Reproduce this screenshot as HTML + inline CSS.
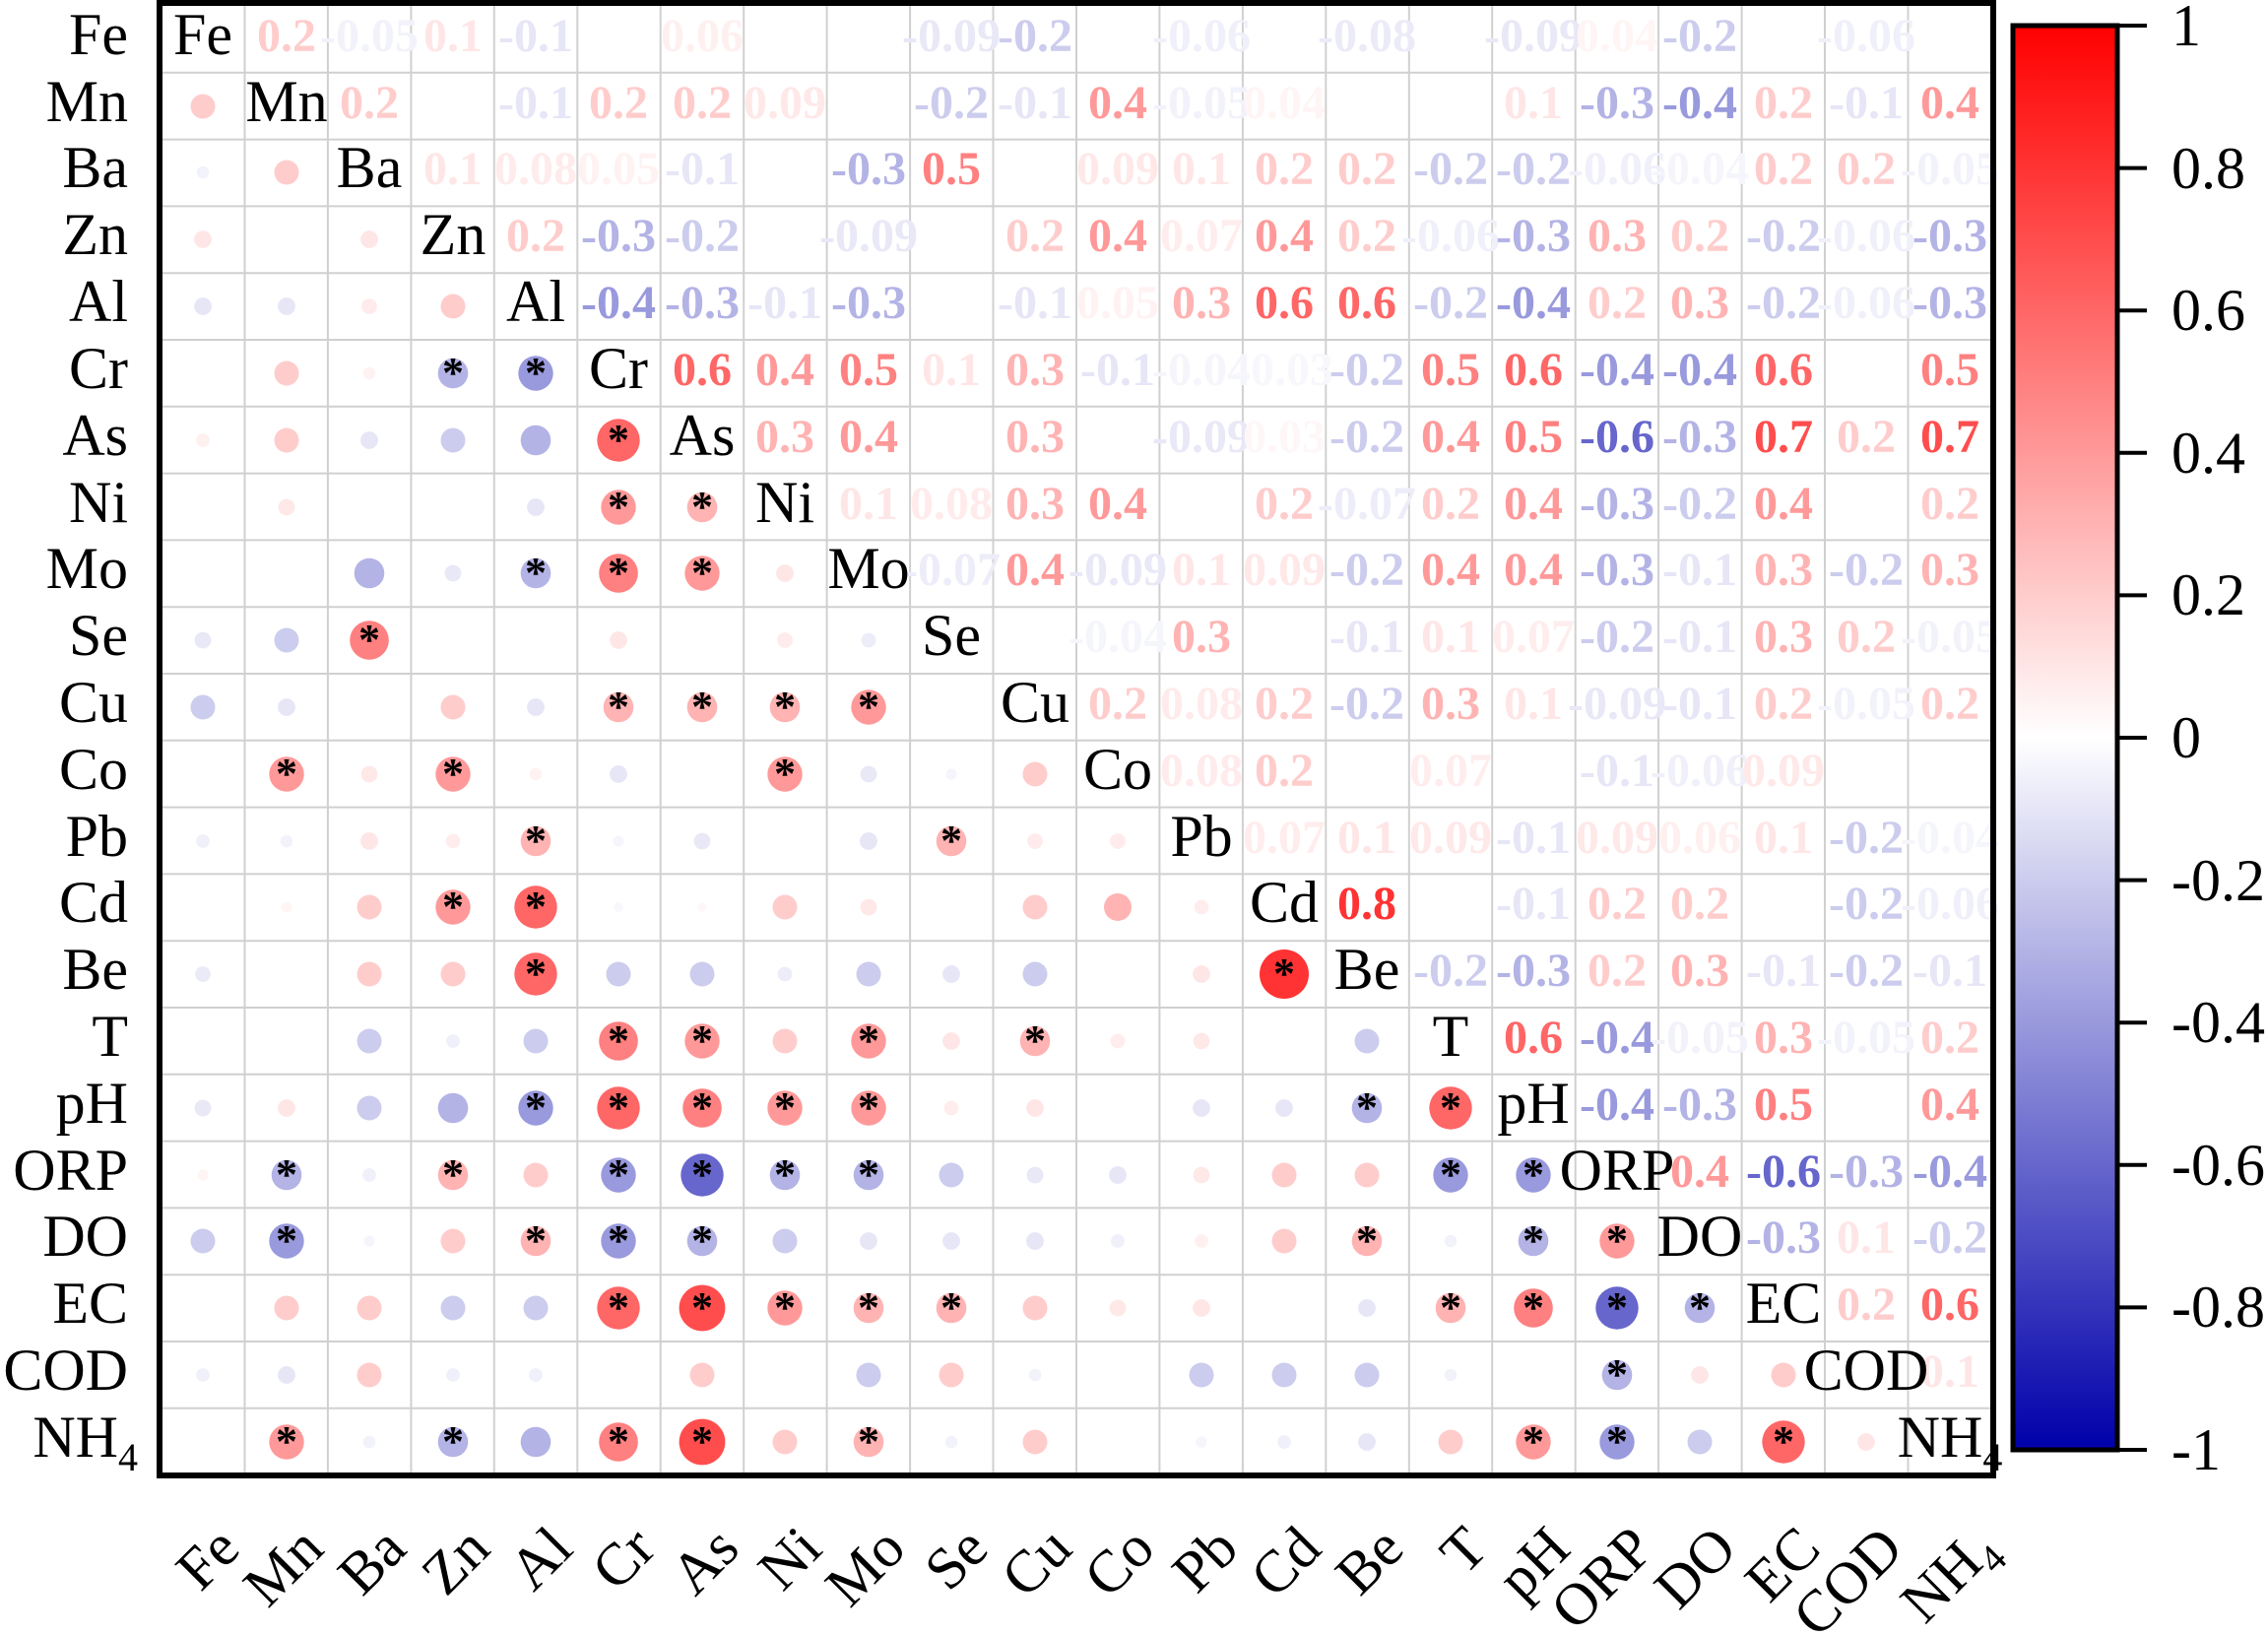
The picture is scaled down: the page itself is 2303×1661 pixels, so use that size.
<!DOCTYPE html>
<html><head><meta charset="utf-8"><style>
html,body{margin:0;padding:0;background:#fff}
svg{display:block}
text{font-family:"Liberation Serif","DejaVu Serif",serif}
.v{font-size:48px;font-weight:bold;text-anchor:middle}
.lb{font-size:60px;text-anchor:middle;fill:#000}
.rl{font-size:60px;text-anchor:end;fill:#000}
.a{font-size:44px;font-weight:bold;text-anchor:middle;fill:#000}
.p03{fill:#fff7f7}.p04{fill:#fff5f5}.p05{fill:#fff2f2}.p06{fill:#fff0f0}.p07{fill:#ffeded}.p08{fill:#ffebeb}.p09{fill:#ffe8e8}.p1{fill:#ffe6e6}.p2{fill:#ffcccc}.p3{fill:#ffb3b3}.p4{fill:#ff9999}.p5{fill:#ff8080}.p6{fill:#ff6666}.p7{fill:#ff4d4d}.p8{fill:#ff3333}
.n03{fill:#f7f7fc}.n04{fill:#f5f5fc}.n05{fill:#f2f2fb}.n06{fill:#f0f0fa}.n07{fill:#ededf9}.n08{fill:#ebebf8}.n09{fill:#e8e8f7}.n1{fill:#e6e6f7}.n2{fill:#ccccee}.n3{fill:#b3b3e6}.n4{fill:#9999dd}.n6{fill:#6666cc}
</style></head><body>
<svg width="2303" height="1661" viewBox="0 0 2303 1661" xmlns="http://www.w3.org/2000/svg">
<defs><linearGradient id="cb" x1="0" y1="0" x2="0" y2="1">
<stop offset="0" stop-color="#ff0000"/><stop offset="0.5" stop-color="#ffffff"/><stop offset="1" stop-color="#0000aa"/>
</linearGradient></defs>
<g stroke="#d0d0d0" stroke-width="2">
<line x1="248.5" y1="6" x2="248.5" y2="1495"/><line x1="332.9" y1="6" x2="332.9" y2="1495"/><line x1="417.4" y1="6" x2="417.4" y2="1495"/><line x1="501.8" y1="6" x2="501.8" y2="1495"/><line x1="586.3" y1="6" x2="586.3" y2="1495"/><line x1="670.7" y1="6" x2="670.7" y2="1495"/><line x1="755.2" y1="6" x2="755.2" y2="1495"/><line x1="839.6" y1="6" x2="839.6" y2="1495"/><line x1="924.1" y1="6" x2="924.1" y2="1495"/><line x1="1008.5" y1="6" x2="1008.5" y2="1495"/><line x1="1093" y1="6" x2="1093" y2="1495"/><line x1="1177.4" y1="6" x2="1177.4" y2="1495"/><line x1="1261.9" y1="6" x2="1261.9" y2="1495"/><line x1="1346.3" y1="6" x2="1346.3" y2="1495"/><line x1="1430.8" y1="6" x2="1430.8" y2="1495"/><line x1="1515.2" y1="6" x2="1515.2" y2="1495"/><line x1="1599.7" y1="6" x2="1599.7" y2="1495"/><line x1="1684.1" y1="6" x2="1684.1" y2="1495"/><line x1="1768.6" y1="6" x2="1768.6" y2="1495"/><line x1="1853" y1="6" x2="1853" y2="1495"/><line x1="1937.5" y1="6" x2="1937.5" y2="1495"/>
<line x1="164" y1="73.8" x2="2022" y2="73.8"/><line x1="164" y1="141.6" x2="2022" y2="141.6"/><line x1="164" y1="209.4" x2="2022" y2="209.4"/><line x1="164" y1="277.2" x2="2022" y2="277.2"/><line x1="164" y1="345" x2="2022" y2="345"/><line x1="164" y1="412.8" x2="2022" y2="412.8"/><line x1="164" y1="480.6" x2="2022" y2="480.6"/><line x1="164" y1="548.4" x2="2022" y2="548.4"/><line x1="164" y1="616.2" x2="2022" y2="616.2"/><line x1="164" y1="684" x2="2022" y2="684"/><line x1="164" y1="751.8" x2="2022" y2="751.8"/><line x1="164" y1="819.6" x2="2022" y2="819.6"/><line x1="164" y1="887.4" x2="2022" y2="887.4"/><line x1="164" y1="955.2" x2="2022" y2="955.2"/><line x1="164" y1="1023" x2="2022" y2="1023"/><line x1="164" y1="1090.8" x2="2022" y2="1090.8"/><line x1="164" y1="1158.6" x2="2022" y2="1158.6"/><line x1="164" y1="1226.4" x2="2022" y2="1226.4"/><line x1="164" y1="1294.2" x2="2022" y2="1294.2"/><line x1="164" y1="1362" x2="2022" y2="1362"/><line x1="164" y1="1429.8" x2="2022" y2="1429.8"/>
</g>
<g>
<circle cx="206" cy="108" r="12.5" class="p2"/><circle cx="206" cy="175" r="6.3" class="n05"/><circle cx="206" cy="243" r="8.9" class="p1"/><circle cx="206" cy="311" r="8.9" class="n1"/><circle cx="206" cy="447" r="6.9" class="p06"/><circle cx="206" cy="650" r="8.4" class="n09"/><circle cx="206" cy="718" r="12.5" class="n2"/><circle cx="206" cy="854" r="6.9" class="n06"/><circle cx="206" cy="989" r="7.9" class="n08"/><circle cx="206" cy="1125" r="8.4" class="n09"/><circle cx="206" cy="1193" r="5.6" class="p04"/><circle cx="206" cy="1260" r="12.5" class="n2"/><circle cx="206" cy="1396" r="6.9" class="n06"/>
<circle cx="291" cy="175" r="12.5" class="p2"/><circle cx="291" cy="311" r="8.9" class="n1"/><circle cx="291" cy="379" r="12.5" class="p2"/><circle cx="291" cy="447" r="12.5" class="p2"/><circle cx="291" cy="515" r="8.4" class="p09"/><circle cx="291" cy="650" r="12.5" class="n2"/><circle cx="291" cy="718" r="8.9" class="n1"/><circle cx="291" cy="786" r="17.7" class="p4"/><circle cx="291" cy="854" r="6.3" class="n05"/><circle cx="291" cy="921" r="5.6" class="p04"/><circle cx="291" cy="1125" r="8.9" class="p1"/><circle cx="291" cy="1193" r="15.3" class="n3"/><circle cx="291" cy="1260" r="17.7" class="n4"/><circle cx="291" cy="1328" r="12.5" class="p2"/><circle cx="291" cy="1396" r="8.9" class="n1"/><circle cx="291" cy="1464" r="17.7" class="p4"/>
<circle cx="375" cy="243" r="8.9" class="p1"/><circle cx="375" cy="311" r="7.9" class="p08"/><circle cx="375" cy="379" r="6.3" class="p05"/><circle cx="375" cy="447" r="8.9" class="n1"/><circle cx="375" cy="582" r="15.3" class="n3"/><circle cx="375" cy="650" r="19.8" class="p5"/><circle cx="375" cy="786" r="8.4" class="p09"/><circle cx="375" cy="854" r="8.9" class="p1"/><circle cx="375" cy="921" r="12.5" class="p2"/><circle cx="375" cy="989" r="12.5" class="p2"/><circle cx="375" cy="1057" r="12.5" class="n2"/><circle cx="375" cy="1125" r="12.5" class="n2"/><circle cx="375" cy="1193" r="6.9" class="n06"/><circle cx="375" cy="1260" r="5.6" class="n04"/><circle cx="375" cy="1328" r="12.5" class="p2"/><circle cx="375" cy="1396" r="12.5" class="p2"/><circle cx="375" cy="1464" r="6.3" class="n05"/>
<circle cx="460" cy="311" r="12.5" class="p2"/><circle cx="460" cy="379" r="15.3" class="n3"/><circle cx="460" cy="447" r="12.5" class="n2"/><circle cx="460" cy="582" r="8.4" class="n09"/><circle cx="460" cy="718" r="12.5" class="p2"/><circle cx="460" cy="786" r="17.7" class="p4"/><circle cx="460" cy="854" r="7.4" class="p07"/><circle cx="460" cy="921" r="17.7" class="p4"/><circle cx="460" cy="989" r="12.5" class="p2"/><circle cx="460" cy="1057" r="6.9" class="n06"/><circle cx="460" cy="1125" r="15.3" class="n3"/><circle cx="460" cy="1193" r="15.3" class="p3"/><circle cx="460" cy="1260" r="12.5" class="p2"/><circle cx="460" cy="1328" r="12.5" class="n2"/><circle cx="460" cy="1396" r="6.9" class="n06"/><circle cx="460" cy="1464" r="15.3" class="n3"/>
<circle cx="544" cy="379" r="17.7" class="n4"/><circle cx="544" cy="447" r="15.3" class="n3"/><circle cx="544" cy="515" r="8.9" class="n1"/><circle cx="544" cy="582" r="15.3" class="n3"/><circle cx="544" cy="718" r="8.9" class="n1"/><circle cx="544" cy="786" r="6.3" class="p05"/><circle cx="544" cy="854" r="15.3" class="p3"/><circle cx="544" cy="921" r="21.7" class="p6"/><circle cx="544" cy="989" r="21.7" class="p6"/><circle cx="544" cy="1057" r="12.5" class="n2"/><circle cx="544" cy="1125" r="17.7" class="n4"/><circle cx="544" cy="1193" r="12.5" class="p2"/><circle cx="544" cy="1260" r="15.3" class="p3"/><circle cx="544" cy="1328" r="12.5" class="n2"/><circle cx="544" cy="1396" r="6.9" class="n06"/><circle cx="544" cy="1464" r="15.3" class="n3"/>
<circle cx="628" cy="447" r="21.7" class="p6"/><circle cx="628" cy="515" r="17.7" class="p4"/><circle cx="628" cy="582" r="19.8" class="p5"/><circle cx="628" cy="650" r="8.9" class="p1"/><circle cx="628" cy="718" r="15.3" class="p3"/><circle cx="628" cy="786" r="8.9" class="n1"/><circle cx="628" cy="854" r="5.6" class="n04"/><circle cx="628" cy="921" r="4.8" class="n03"/><circle cx="628" cy="989" r="12.5" class="n2"/><circle cx="628" cy="1057" r="19.8" class="p5"/><circle cx="628" cy="1125" r="21.7" class="p6"/><circle cx="628" cy="1193" r="17.7" class="n4"/><circle cx="628" cy="1260" r="17.7" class="n4"/><circle cx="628" cy="1328" r="21.7" class="p6"/><circle cx="628" cy="1464" r="19.8" class="p5"/>
<circle cx="713" cy="515" r="15.3" class="p3"/><circle cx="713" cy="582" r="17.7" class="p4"/><circle cx="713" cy="718" r="15.3" class="p3"/><circle cx="713" cy="854" r="8.4" class="n09"/><circle cx="713" cy="921" r="4.8" class="p03"/><circle cx="713" cy="989" r="12.5" class="n2"/><circle cx="713" cy="1057" r="17.7" class="p4"/><circle cx="713" cy="1125" r="19.8" class="p5"/><circle cx="713" cy="1193" r="21.7" class="n6"/><circle cx="713" cy="1260" r="15.3" class="n3"/><circle cx="713" cy="1328" r="23.4" class="p7"/><circle cx="713" cy="1396" r="12.5" class="p2"/><circle cx="713" cy="1464" r="23.4" class="p7"/>
<circle cx="797" cy="582" r="8.9" class="p1"/><circle cx="797" cy="650" r="7.9" class="p08"/><circle cx="797" cy="718" r="15.3" class="p3"/><circle cx="797" cy="786" r="17.7" class="p4"/><circle cx="797" cy="921" r="12.5" class="p2"/><circle cx="797" cy="989" r="7.4" class="n07"/><circle cx="797" cy="1057" r="12.5" class="p2"/><circle cx="797" cy="1125" r="17.7" class="p4"/><circle cx="797" cy="1193" r="15.3" class="n3"/><circle cx="797" cy="1260" r="12.5" class="n2"/><circle cx="797" cy="1328" r="17.7" class="p4"/><circle cx="797" cy="1464" r="12.5" class="p2"/>
<circle cx="882" cy="650" r="7.4" class="n07"/><circle cx="882" cy="718" r="17.7" class="p4"/><circle cx="882" cy="786" r="8.4" class="n09"/><circle cx="882" cy="854" r="8.9" class="n1"/><circle cx="882" cy="921" r="8.4" class="p09"/><circle cx="882" cy="989" r="12.5" class="n2"/><circle cx="882" cy="1057" r="17.7" class="p4"/><circle cx="882" cy="1125" r="17.7" class="p4"/><circle cx="882" cy="1193" r="15.3" class="n3"/><circle cx="882" cy="1260" r="8.9" class="n1"/><circle cx="882" cy="1328" r="15.3" class="p3"/><circle cx="882" cy="1396" r="12.5" class="n2"/><circle cx="882" cy="1464" r="15.3" class="p3"/>
<circle cx="966" cy="786" r="5.6" class="n04"/><circle cx="966" cy="854" r="15.3" class="p3"/><circle cx="966" cy="989" r="8.9" class="n1"/><circle cx="966" cy="1057" r="8.9" class="p1"/><circle cx="966" cy="1125" r="7.4" class="p07"/><circle cx="966" cy="1193" r="12.5" class="n2"/><circle cx="966" cy="1260" r="8.9" class="n1"/><circle cx="966" cy="1328" r="15.3" class="p3"/><circle cx="966" cy="1396" r="12.5" class="p2"/><circle cx="966" cy="1464" r="6.3" class="n05"/>
<circle cx="1051" cy="786" r="12.5" class="p2"/><circle cx="1051" cy="854" r="7.9" class="p08"/><circle cx="1051" cy="921" r="12.5" class="p2"/><circle cx="1051" cy="989" r="12.5" class="n2"/><circle cx="1051" cy="1057" r="15.3" class="p3"/><circle cx="1051" cy="1125" r="8.9" class="p1"/><circle cx="1051" cy="1193" r="8.4" class="n09"/><circle cx="1051" cy="1260" r="8.9" class="n1"/><circle cx="1051" cy="1328" r="12.5" class="p2"/><circle cx="1051" cy="1396" r="6.3" class="n05"/><circle cx="1051" cy="1464" r="12.5" class="p2"/>
<circle cx="1135" cy="854" r="7.9" class="p08"/><circle cx="1135" cy="921" r="14" class="p3"/><circle cx="1135" cy="1057" r="7.4" class="p07"/><circle cx="1135" cy="1193" r="8.9" class="n1"/><circle cx="1135" cy="1260" r="6.9" class="n06"/><circle cx="1135" cy="1328" r="8.4" class="p09"/>
<circle cx="1220" cy="921" r="7.4" class="p07"/><circle cx="1220" cy="989" r="8.9" class="p1"/><circle cx="1220" cy="1057" r="8.4" class="p09"/><circle cx="1220" cy="1125" r="8.9" class="n1"/><circle cx="1220" cy="1193" r="8.4" class="p09"/><circle cx="1220" cy="1260" r="6.9" class="p06"/><circle cx="1220" cy="1328" r="8.9" class="p1"/><circle cx="1220" cy="1396" r="12.5" class="n2"/><circle cx="1220" cy="1464" r="5.6" class="n04"/>
<circle cx="1304" cy="989" r="25" class="p8"/><circle cx="1304" cy="1125" r="8.9" class="n1"/><circle cx="1304" cy="1193" r="12.5" class="p2"/><circle cx="1304" cy="1260" r="12.5" class="p2"/><circle cx="1304" cy="1396" r="12.5" class="n2"/><circle cx="1304" cy="1464" r="6.9" class="n06"/>
<circle cx="1388" cy="1057" r="12.5" class="n2"/><circle cx="1388" cy="1125" r="15.3" class="n3"/><circle cx="1388" cy="1193" r="12.5" class="p2"/><circle cx="1388" cy="1260" r="15.3" class="p3"/><circle cx="1388" cy="1328" r="8.9" class="n1"/><circle cx="1388" cy="1396" r="12.5" class="n2"/><circle cx="1388" cy="1464" r="8.9" class="n1"/>
<circle cx="1473" cy="1125" r="21.7" class="p6"/><circle cx="1473" cy="1193" r="17.7" class="n4"/><circle cx="1473" cy="1260" r="6.3" class="n05"/><circle cx="1473" cy="1328" r="15.3" class="p3"/><circle cx="1473" cy="1396" r="6.3" class="n05"/><circle cx="1473" cy="1464" r="12.5" class="p2"/>
<circle cx="1557" cy="1193" r="17.7" class="n4"/><circle cx="1557" cy="1260" r="15.3" class="n3"/><circle cx="1557" cy="1328" r="19.8" class="p5"/><circle cx="1557" cy="1464" r="17.7" class="p4"/>
<circle cx="1642" cy="1260" r="17.7" class="p4"/><circle cx="1642" cy="1328" r="21.7" class="n6"/><circle cx="1642" cy="1396" r="15.3" class="n3"/><circle cx="1642" cy="1464" r="17.7" class="n4"/>
<circle cx="1726" cy="1328" r="15.3" class="n3"/><circle cx="1726" cy="1396" r="8.9" class="p1"/><circle cx="1726" cy="1464" r="12.5" class="n2"/>
<circle cx="1811" cy="1396" r="12.5" class="p2"/><circle cx="1811" cy="1464" r="21.7" class="p6"/>
<circle cx="1895" cy="1464" r="8.9" class="p1"/>
</g>
<g>
<text class="a" x="460" y="393">*</text><text class="a" x="544" y="393">*</text>
<text class="a" x="628" y="461">*</text>
<text class="a" x="628" y="529">*</text><text class="a" x="713" y="529">*</text>
<text class="a" x="544" y="596">*</text><text class="a" x="628" y="596">*</text><text class="a" x="713" y="596">*</text>
<text class="a" x="375" y="664">*</text>
<text class="a" x="628" y="732">*</text><text class="a" x="713" y="732">*</text><text class="a" x="797" y="732">*</text><text class="a" x="882" y="732">*</text>
<text class="a" x="291" y="800">*</text><text class="a" x="460" y="800">*</text><text class="a" x="797" y="800">*</text>
<text class="a" x="544" y="868">*</text><text class="a" x="966" y="868">*</text>
<text class="a" x="460" y="935">*</text><text class="a" x="544" y="935">*</text>
<text class="a" x="544" y="1003">*</text><text class="a" x="1304" y="1003">*</text>
<text class="a" x="628" y="1071">*</text><text class="a" x="713" y="1071">*</text><text class="a" x="882" y="1071">*</text><text class="a" x="1051" y="1071">*</text>
<text class="a" x="544" y="1139">*</text><text class="a" x="628" y="1139">*</text><text class="a" x="713" y="1139">*</text><text class="a" x="797" y="1139">*</text><text class="a" x="882" y="1139">*</text><text class="a" x="1388" y="1139">*</text><text class="a" x="1473" y="1139">*</text>
<text class="a" x="291" y="1207">*</text><text class="a" x="460" y="1207">*</text><text class="a" x="628" y="1207">*</text><text class="a" x="713" y="1207">*</text><text class="a" x="797" y="1207">*</text><text class="a" x="882" y="1207">*</text><text class="a" x="1473" y="1207">*</text><text class="a" x="1557" y="1207">*</text>
<text class="a" x="291" y="1274">*</text><text class="a" x="544" y="1274">*</text><text class="a" x="628" y="1274">*</text><text class="a" x="713" y="1274">*</text><text class="a" x="1388" y="1274">*</text><text class="a" x="1557" y="1274">*</text><text class="a" x="1642" y="1274">*</text>
<text class="a" x="628" y="1342">*</text><text class="a" x="713" y="1342">*</text><text class="a" x="797" y="1342">*</text><text class="a" x="882" y="1342">*</text><text class="a" x="966" y="1342">*</text><text class="a" x="1473" y="1342">*</text><text class="a" x="1557" y="1342">*</text><text class="a" x="1642" y="1342">*</text><text class="a" x="1726" y="1342">*</text>
<text class="a" x="1642" y="1410">*</text>
<text class="a" x="291" y="1478">*</text><text class="a" x="460" y="1478">*</text><text class="a" x="628" y="1478">*</text><text class="a" x="713" y="1478">*</text><text class="a" x="882" y="1478">*</text><text class="a" x="1557" y="1478">*</text><text class="a" x="1642" y="1478">*</text><text class="a" x="1811" y="1478">*</text>
</g>
<g transform="translate(0,-5)">
<text class="v p2" x="291" y="57">0.2</text><text class="v n05" x="375" y="57">-0.05</text><text class="v p1" x="460" y="57">0.1</text><text class="v n1" x="544" y="57">-0.1</text><text class="v p06" x="713" y="57">0.06</text><text class="v n09" x="966" y="57">-0.09</text><text class="v n2" x="1051" y="57">-0.2</text><text class="v n06" x="1220" y="57">-0.06</text><text class="v n08" x="1388" y="57">-0.08</text><text class="v n09" x="1557" y="57">-0.09</text><text class="v p04" x="1642" y="57">0.04</text><text class="v n2" x="1726" y="57">-0.2</text><text class="v n06" x="1895" y="57">-0.06</text>
<text class="v p2" x="375" y="125">0.2</text><text class="v n1" x="544" y="125">-0.1</text><text class="v p2" x="628" y="125">0.2</text><text class="v p2" x="713" y="125">0.2</text><text class="v p09" x="797" y="125">0.09</text><text class="v n2" x="966" y="125">-0.2</text><text class="v n1" x="1051" y="125">-0.1</text><text class="v p4" x="1135" y="125">0.4</text><text class="v n05" x="1220" y="125">-0.05</text><text class="v p04" x="1304" y="125">0.04</text><text class="v p1" x="1557" y="125">0.1</text><text class="v n3" x="1642" y="125">-0.3</text><text class="v n4" x="1726" y="125">-0.4</text><text class="v p2" x="1811" y="125">0.2</text><text class="v n1" x="1895" y="125">-0.1</text><text class="v p4" x="1980" y="125">0.4</text>
<text class="v p1" x="460" y="192">0.1</text><text class="v p08" x="544" y="192">0.08</text><text class="v p05" x="628" y="192">0.05</text><text class="v n1" x="713" y="192">-0.1</text><text class="v n3" x="882" y="192">-0.3</text><text class="v p5" x="966" y="192">0.5</text><text class="v p09" x="1135" y="192">0.09</text><text class="v p1" x="1220" y="192">0.1</text><text class="v p2" x="1304" y="192">0.2</text><text class="v p2" x="1388" y="192">0.2</text><text class="v n2" x="1473" y="192">-0.2</text><text class="v n2" x="1557" y="192">-0.2</text><text class="v n06" x="1642" y="192">-0.06</text><text class="v n04" x="1726" y="192">-0.04</text><text class="v p2" x="1811" y="192">0.2</text><text class="v p2" x="1895" y="192">0.2</text><text class="v n05" x="1980" y="192">-0.05</text>
<text class="v p2" x="544" y="260">0.2</text><text class="v n3" x="628" y="260">-0.3</text><text class="v n2" x="713" y="260">-0.2</text><text class="v n09" x="882" y="260">-0.09</text><text class="v p2" x="1051" y="260">0.2</text><text class="v p4" x="1135" y="260">0.4</text><text class="v p07" x="1220" y="260">0.07</text><text class="v p4" x="1304" y="260">0.4</text><text class="v p2" x="1388" y="260">0.2</text><text class="v n06" x="1473" y="260">-0.06</text><text class="v n3" x="1557" y="260">-0.3</text><text class="v p3" x="1642" y="260">0.3</text><text class="v p2" x="1726" y="260">0.2</text><text class="v n2" x="1811" y="260">-0.2</text><text class="v n06" x="1895" y="260">-0.06</text><text class="v n3" x="1980" y="260">-0.3</text>
<text class="v n4" x="628" y="328">-0.4</text><text class="v n3" x="713" y="328">-0.3</text><text class="v n1" x="797" y="328">-0.1</text><text class="v n3" x="882" y="328">-0.3</text><text class="v n1" x="1051" y="328">-0.1</text><text class="v p05" x="1135" y="328">0.05</text><text class="v p3" x="1220" y="328">0.3</text><text class="v p6" x="1304" y="328">0.6</text><text class="v p6" x="1388" y="328">0.6</text><text class="v n2" x="1473" y="328">-0.2</text><text class="v n4" x="1557" y="328">-0.4</text><text class="v p2" x="1642" y="328">0.2</text><text class="v p3" x="1726" y="328">0.3</text><text class="v n2" x="1811" y="328">-0.2</text><text class="v n06" x="1895" y="328">-0.06</text><text class="v n3" x="1980" y="328">-0.3</text>
<text class="v p6" x="713" y="396">0.6</text><text class="v p4" x="797" y="396">0.4</text><text class="v p5" x="882" y="396">0.5</text><text class="v p1" x="966" y="396">0.1</text><text class="v p3" x="1051" y="396">0.3</text><text class="v n1" x="1135" y="396">-0.1</text><text class="v n04" x="1220" y="396">-0.04</text><text class="v n03" x="1304" y="396">-0.03</text><text class="v n2" x="1388" y="396">-0.2</text><text class="v p5" x="1473" y="396">0.5</text><text class="v p6" x="1557" y="396">0.6</text><text class="v n4" x="1642" y="396">-0.4</text><text class="v n4" x="1726" y="396">-0.4</text><text class="v p6" x="1811" y="396">0.6</text><text class="v p5" x="1980" y="396">0.5</text>
<text class="v p3" x="797" y="464">0.3</text><text class="v p4" x="882" y="464">0.4</text><text class="v p3" x="1051" y="464">0.3</text><text class="v n09" x="1220" y="464">-0.09</text><text class="v p03" x="1304" y="464">0.03</text><text class="v n2" x="1388" y="464">-0.2</text><text class="v p4" x="1473" y="464">0.4</text><text class="v p5" x="1557" y="464">0.5</text><text class="v n6" x="1642" y="464">-0.6</text><text class="v n3" x="1726" y="464">-0.3</text><text class="v p7" x="1811" y="464">0.7</text><text class="v p2" x="1895" y="464">0.2</text><text class="v p7" x="1980" y="464">0.7</text>
<text class="v p1" x="882" y="532">0.1</text><text class="v p08" x="966" y="532">0.08</text><text class="v p3" x="1051" y="532">0.3</text><text class="v p4" x="1135" y="532">0.4</text><text class="v p2" x="1304" y="532">0.2</text><text class="v n07" x="1388" y="532">-0.07</text><text class="v p2" x="1473" y="532">0.2</text><text class="v p4" x="1557" y="532">0.4</text><text class="v n3" x="1642" y="532">-0.3</text><text class="v n2" x="1726" y="532">-0.2</text><text class="v p4" x="1811" y="532">0.4</text><text class="v p2" x="1980" y="532">0.2</text>
<text class="v n07" x="966" y="599">-0.07</text><text class="v p4" x="1051" y="599">0.4</text><text class="v n09" x="1135" y="599">-0.09</text><text class="v p1" x="1220" y="599">0.1</text><text class="v p09" x="1304" y="599">0.09</text><text class="v n2" x="1388" y="599">-0.2</text><text class="v p4" x="1473" y="599">0.4</text><text class="v p4" x="1557" y="599">0.4</text><text class="v n3" x="1642" y="599">-0.3</text><text class="v n1" x="1726" y="599">-0.1</text><text class="v p3" x="1811" y="599">0.3</text><text class="v n2" x="1895" y="599">-0.2</text><text class="v p3" x="1980" y="599">0.3</text>
<text class="v n04" x="1135" y="667">-0.04</text><text class="v p3" x="1220" y="667">0.3</text><text class="v n1" x="1388" y="667">-0.1</text><text class="v p1" x="1473" y="667">0.1</text><text class="v p07" x="1557" y="667">0.07</text><text class="v n2" x="1642" y="667">-0.2</text><text class="v n1" x="1726" y="667">-0.1</text><text class="v p3" x="1811" y="667">0.3</text><text class="v p2" x="1895" y="667">0.2</text><text class="v n05" x="1980" y="667">-0.05</text>
<text class="v p2" x="1135" y="735">0.2</text><text class="v p08" x="1220" y="735">0.08</text><text class="v p2" x="1304" y="735">0.2</text><text class="v n2" x="1388" y="735">-0.2</text><text class="v p3" x="1473" y="735">0.3</text><text class="v p1" x="1557" y="735">0.1</text><text class="v n09" x="1642" y="735">-0.09</text><text class="v n1" x="1726" y="735">-0.1</text><text class="v p2" x="1811" y="735">0.2</text><text class="v n05" x="1895" y="735">-0.05</text><text class="v p2" x="1980" y="735">0.2</text>
<text class="v p08" x="1220" y="803">0.08</text><text class="v p2" x="1304" y="803">0.2</text><text class="v p07" x="1473" y="803">0.07</text><text class="v n1" x="1642" y="803">-0.1</text><text class="v n06" x="1726" y="803">-0.06</text><text class="v p09" x="1811" y="803">0.09</text>
<text class="v p07" x="1304" y="871">0.07</text><text class="v p1" x="1388" y="871">0.1</text><text class="v p09" x="1473" y="871">0.09</text><text class="v n1" x="1557" y="871">-0.1</text><text class="v p09" x="1642" y="871">0.09</text><text class="v p06" x="1726" y="871">0.06</text><text class="v p1" x="1811" y="871">0.1</text><text class="v n2" x="1895" y="871">-0.2</text><text class="v n04" x="1980" y="871">-0.04</text>
<text class="v p8" x="1388" y="938">0.8</text><text class="v n1" x="1557" y="938">-0.1</text><text class="v p2" x="1642" y="938">0.2</text><text class="v p2" x="1726" y="938">0.2</text><text class="v n2" x="1895" y="938">-0.2</text><text class="v n06" x="1980" y="938">-0.06</text>
<text class="v n2" x="1473" y="1006">-0.2</text><text class="v n3" x="1557" y="1006">-0.3</text><text class="v p2" x="1642" y="1006">0.2</text><text class="v p3" x="1726" y="1006">0.3</text><text class="v n1" x="1811" y="1006">-0.1</text><text class="v n2" x="1895" y="1006">-0.2</text><text class="v n1" x="1980" y="1006">-0.1</text>
<text class="v p6" x="1557" y="1074">0.6</text><text class="v n4" x="1642" y="1074">-0.4</text><text class="v n05" x="1726" y="1074">-0.05</text><text class="v p3" x="1811" y="1074">0.3</text><text class="v n05" x="1895" y="1074">-0.05</text><text class="v p2" x="1980" y="1074">0.2</text>
<text class="v n4" x="1642" y="1142">-0.4</text><text class="v n3" x="1726" y="1142">-0.3</text><text class="v p5" x="1811" y="1142">0.5</text><text class="v p4" x="1980" y="1142">0.4</text>
<text class="v p4" x="1726" y="1210">0.4</text><text class="v n6" x="1811" y="1210">-0.6</text><text class="v n3" x="1895" y="1210">-0.3</text><text class="v n4" x="1980" y="1210">-0.4</text>
<text class="v n3" x="1811" y="1277">-0.3</text><text class="v p1" x="1895" y="1277">0.1</text><text class="v n2" x="1980" y="1277">-0.2</text>
<text class="v p2" x="1895" y="1345">0.2</text><text class="v p6" x="1980" y="1345">0.6</text>
<text class="v p1" x="1980" y="1413">0.1</text>
</g>
<g transform="translate(0,-5)">
<text class="lb" x="206" y="60">Fe</text><text class="lb" x="291" y="128">Mn</text><text class="lb" x="375" y="195">Ba</text><text class="lb" x="460" y="263">Zn</text><text class="lb" x="544" y="331">Al</text><text class="lb" x="628" y="399">Cr</text><text class="lb" x="713" y="467">As</text><text class="lb" x="797" y="535">Ni</text><text class="lb" x="882" y="602">Mo</text><text class="lb" x="966" y="670">Se</text><text class="lb" x="1051" y="738">Cu</text><text class="lb" x="1135" y="806">Co</text><text class="lb" x="1220" y="874">Pb</text><text class="lb" x="1304" y="941">Cd</text><text class="lb" x="1388" y="1009">Be</text><text class="lb" x="1473" y="1077">T</text><text class="lb" x="1557" y="1145">pH</text><text class="lb" x="1642" y="1213">ORP</text><text class="lb" x="1726" y="1280">DO</text><text class="lb" x="1811" y="1348">EC</text><text class="lb" x="1895" y="1416">COD</text><text class="lb" x="1980" y="1484">NH<tspan font-size="40" dy="14">4</tspan></text>
</g>
<g transform="translate(0,-5)">
<text class="rl" x="130" y="60">Fe</text><text class="rl" x="130" y="128">Mn</text><text class="rl" x="130" y="195">Ba</text><text class="rl" x="130" y="263">Zn</text><text class="rl" x="130" y="331">Al</text><text class="rl" x="130" y="399">Cr</text><text class="rl" x="130" y="467">As</text><text class="rl" x="130" y="535">Ni</text><text class="rl" x="130" y="602">Mo</text><text class="rl" x="130" y="670">Se</text><text class="rl" x="130" y="738">Cu</text><text class="rl" x="130" y="806">Co</text><text class="rl" x="130" y="874">Pb</text><text class="rl" x="130" y="941">Cd</text><text class="rl" x="130" y="1009">Be</text><text class="rl" x="130" y="1077">T</text><text class="rl" x="130" y="1145">pH</text><text class="rl" x="130" y="1213">ORP</text><text class="rl" x="130" y="1280">DO</text><text class="rl" x="130" y="1348">EC</text><text class="rl" x="130" y="1416">COD</text><text class="rl" x="140" y="1484">NH<tspan font-size="40" dy="14">4</tspan></text>
</g>
<rect x="162" y="3" width="1862" height="1495" fill="none" stroke="#000" stroke-width="6"/>
<g font-size="60" text-anchor="end" fill="#000">
<text x="246" y="1575" transform="rotate(-45 246 1575)">Fe</text>
<text x="331" y="1575" transform="rotate(-45 331 1575)">Mn</text>
<text x="415" y="1575" transform="rotate(-45 415 1575)">Ba</text>
<text x="500" y="1575" transform="rotate(-45 500 1575)">Zn</text>
<text x="584" y="1575" transform="rotate(-45 584 1575)">Al</text>
<text x="668" y="1575" transform="rotate(-45 668 1575)">Cr</text>
<text x="753" y="1575" transform="rotate(-45 753 1575)">As</text>
<text x="837" y="1575" transform="rotate(-45 837 1575)">Ni</text>
<text x="922" y="1575" transform="rotate(-45 922 1575)">Mo</text>
<text x="1006" y="1575" transform="rotate(-45 1006 1575)">Se</text>
<text x="1091" y="1575" transform="rotate(-45 1091 1575)">Cu</text>
<text x="1175" y="1575" transform="rotate(-45 1175 1575)">Co</text>
<text x="1260" y="1575" transform="rotate(-45 1260 1575)">Pb</text>
<text x="1344" y="1575" transform="rotate(-45 1344 1575)">Cd</text>
<text x="1428" y="1575" transform="rotate(-45 1428 1575)">Be</text>
<text x="1513" y="1575" transform="rotate(-45 1513 1575)">T</text>
<text x="1597" y="1575" transform="rotate(-45 1597 1575)">pH</text>
<text x="1682" y="1575" transform="rotate(-45 1682 1575)">ORP</text>
<text x="1766" y="1575" transform="rotate(-45 1766 1575)">DO</text>
<text x="1851" y="1575" transform="rotate(-45 1851 1575)">EC</text>
<text x="1935" y="1575" transform="rotate(-45 1935 1575)">COD</text>
<text x="2030" y="1575" transform="rotate(-45 2030 1575)">NH<tspan font-size="40" dy="14">4</tspan></text>
</g>
<rect x="2044" y="26" width="106" height="1446" fill="url(#cb)" stroke="#000" stroke-width="5"/>
<g stroke="#000" stroke-width="4">
<line x1="2150" y1="26" x2="2180" y2="26"/><line x1="2150" y1="170.6" x2="2180" y2="170.6"/><line x1="2150" y1="315.2" x2="2180" y2="315.2"/><line x1="2150" y1="459.8" x2="2180" y2="459.8"/><line x1="2150" y1="604.4" x2="2180" y2="604.4"/><line x1="2150" y1="749" x2="2180" y2="749"/><line x1="2150" y1="893.6" x2="2180" y2="893.6"/><line x1="2150" y1="1038.2" x2="2180" y2="1038.2"/><line x1="2150" y1="1182.8" x2="2180" y2="1182.8"/><line x1="2150" y1="1327.4" x2="2180" y2="1327.4"/><line x1="2150" y1="1472" x2="2180" y2="1472"/>
</g>
<g font-size="60" fill="#000">
<text x="2205" y="46">1</text><text x="2205" y="191">0.8</text><text x="2205" y="335">0.6</text><text x="2205" y="480">0.4</text><text x="2205" y="624">0.2</text><text x="2205" y="769">0</text><text x="2205" y="914">-0.2</text><text x="2205" y="1058">-0.4</text><text x="2205" y="1203">-0.6</text><text x="2205" y="1347">-0.8</text><text x="2205" y="1492">-1</text>
</g>
</svg>
</body></html>
